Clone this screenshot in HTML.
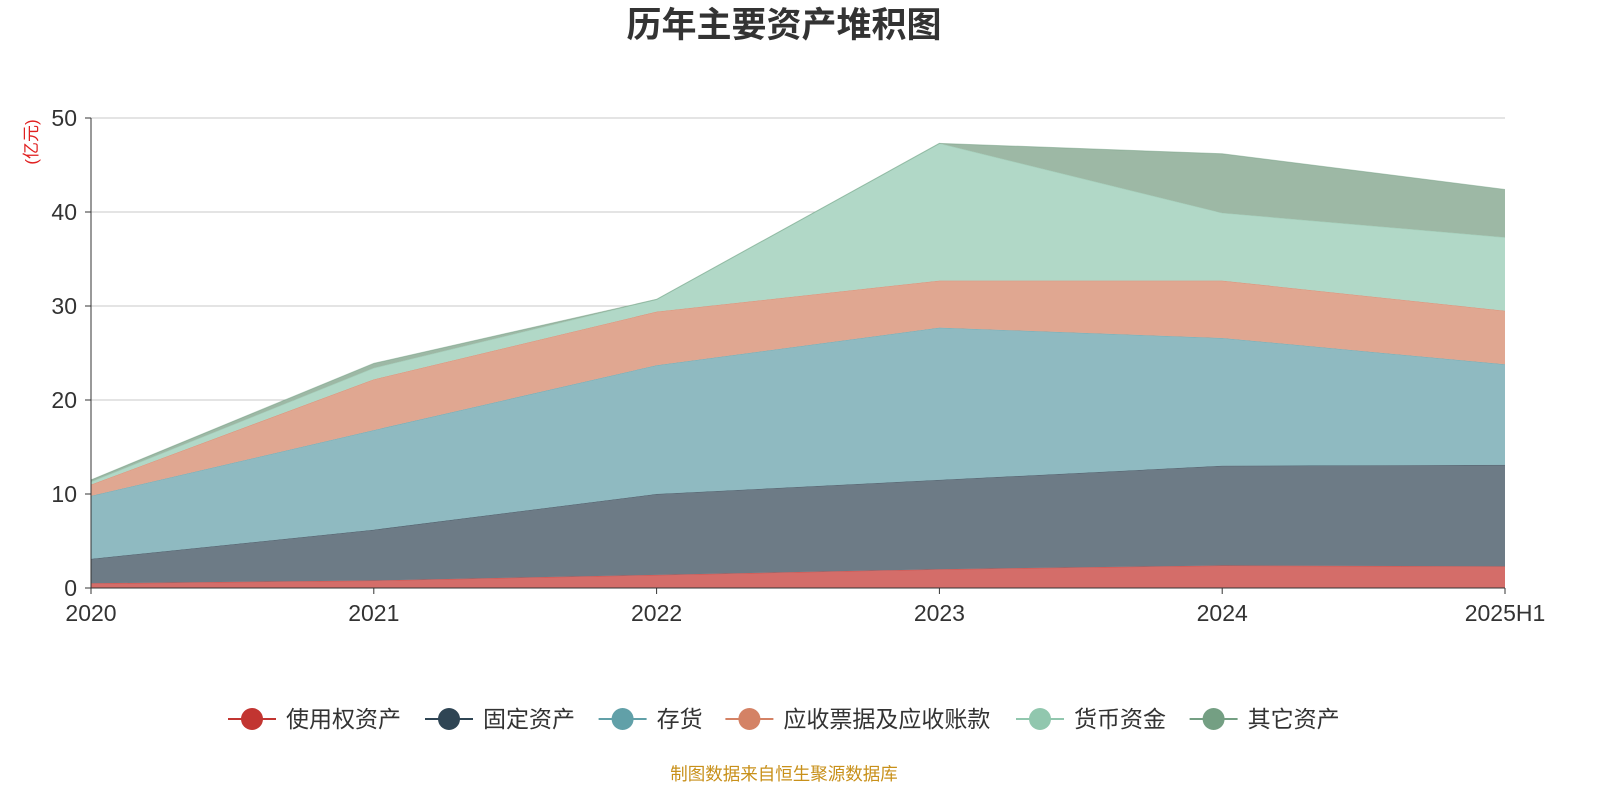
<!DOCTYPE html>
<html><head><meta charset="utf-8"><style>
body{margin:0;background:#fff;width:1600px;height:800px;overflow:hidden;font-family:"Liberation Sans","Noto Sans CJK SC",sans-serif;}
</style></head><body>
<svg id="chart" width="1600" height="800" xmlns="http://www.w3.org/2000/svg" font-family="Liberation Sans, Noto Sans CJK SC, sans-serif">
<text x="784" y="37" text-anchor="middle" font-size="35" font-weight="bold" fill="#333">历年主要资产堆积图</text>
<text transform="translate(37,142) rotate(-90)" text-anchor="middle" font-size="17" fill="#e02020">(亿元)</text>
<g id="grid"></g><g id="areas"></g><g id="axes"></g><g id="legend"></g>
<text x="784" y="780" text-anchor="middle" font-size="17.5" fill="#c8901a">制图数据来自恒生聚源数据库</text>
</svg>
<script>
const categories=["2020","2021","2022","2023","2024","2025H1"];
const seriesNames=["使用权资产","固定资产","存货","应收票据及应收账款","货币资金","其它资产"];
const rouAssets=[0.5,0.8,1.4,2.0,2.4,2.3];
const fixedAssets=[2.6,5.4,8.6,9.5,10.6,10.8];
const inventory=[6.7,10.6,13.7,16.2,13.6,10.7];
const receivables=[1.2,5.4,5.7,5.0,6.1,5.7];
const cash=[0.3,1.2,1.3,14.6,7.2,7.8];
const otherAssets=[0.2,0.5,0.0,0.0,6.3,5.1];
const yTicks=[0,10,20,30,40,50];
const lineColors=["#c23531","#2f4554","#61a0a8","#d48265","#91c7ae","#749f83"];
const fillColors=["#d46d69","#6d7b86","#8fbac1","#e0a791","#b1d8c7","#9db8a5"];
const NS="http://www.w3.org/2000/svg";
const x0=91,x1=1505,y0=588,yTop=118,yMax=50;
const xs=i=>x0+(x1-x0)*i/(categories.length-1);
const ys=v=>y0-(y0-yTop)*v/yMax;
function mk(t,a,p){const e=document.createElementNS(NS,t);for(const k in a)e.setAttribute(k,a[k]);p.appendChild(e);return e;}
const grid=document.getElementById('grid'),areas=document.getElementById('areas'),axes=document.getElementById('axes'),legend=document.getElementById('legend');
yTicks.forEach(t=>{
 const l=mk('line',{x1:x0,x2:x1,y1:ys(t),y2:ys(t),stroke:t===0?'#333':'#c8c8c8','stroke-width':1},grid);
 
 
 const tx=mk('text',{x:x0-14,y:ys(t)+8,'text-anchor':'end','font-size':23,fill:'#333'},axes);tx.textContent=t;
 
 
 mk('line',{x1:x0-6,x2:x0,y1:ys(t),y2:ys(t),stroke:'#333'},axes);
});
const series=[rouAssets,fixedAssets,inventory,receivables,cash,otherAssets];
let base=categories.map(()=>0);
series.forEach((s,k)=>{
 const top=base.map((b,i)=>b+s[i]);
 let d='M'+top.map((v,i)=>xs(i)+','+ys(v)).join(' L');
 for(let i=categories.length-1;i>=0;i--)d+=' L'+xs(i)+','+ys(base[i]);
 const p=mk('path',{d:d+'Z',fill:fillColors[k],stroke:'none'},areas);
 
 
 const ln=mk('polyline',{points:top.map((v,i)=>xs(i)+','+ys(v)).join(' '),fill:'none',stroke:lineColors[k],'stroke-width':1,'stroke-opacity':0.5},areas);
 
 
 base=top;
});
mk('line',{x1:x0,x2:x0,y1:yTop,y2:y0,stroke:'#333'},axes);
mk('line',{x1:x0,x2:x1,y1:y0,y2:y0,stroke:'#333'},axes);
categories.forEach((c,i)=>{
 mk('line',{x1:xs(i),x2:xs(i),y1:y0,y2:y0+6,stroke:'#333'},axes);
 const t=mk('text',{x:xs(i),y:y0+33,'text-anchor':'middle','font-size':23,fill:'#333'},axes);t.textContent=c;
 
 
});
let lx=228;
seriesNames.forEach((n,k)=>{
 const g=mk('g',{},legend);
 
 
 mk('line',{x1:lx,x2:lx+48,y1:719,y2:719,stroke:lineColors[k],'stroke-width':2},g);
 mk('circle',{cx:lx+24,cy:719,r:11,fill:lineColors[k]},g);
 const t=mk('text',{x:lx+58,y:727,'font-size':23,fill:'#333'},g);t.textContent=n;
 lx+=58+n.length*23.4+22;
});
</script>
</body></html>
